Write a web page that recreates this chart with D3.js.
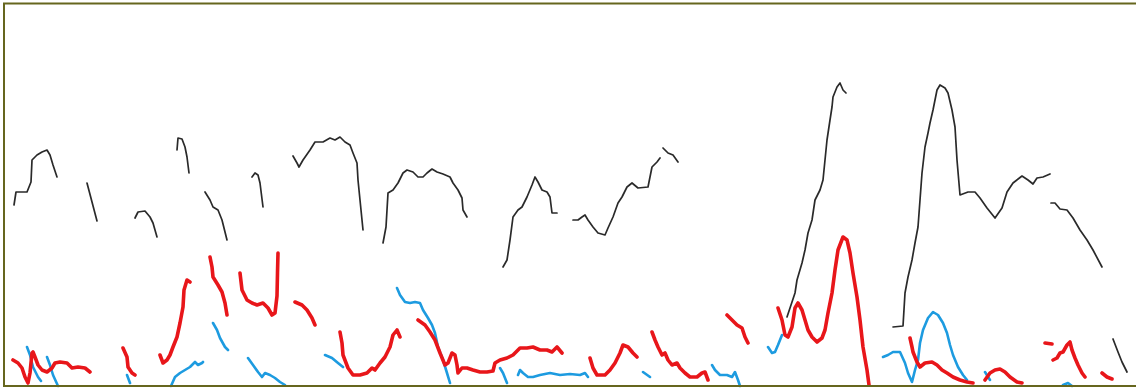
<!DOCTYPE html>
<html>
<head>
<meta charset="utf-8">
<script src="https://cdn.jsdelivr.net/npm/d3@7"></script>
<style>
  html, body { margin: 0; padding: 0; background: #fff; }
  svg { display: block; }
</style>
</head>
<body>
<svg id="chart" width="1136" height="388"></svg>
<script>
// Three recorded traces; each entry is [time index, level], null breaks the trace.
const blackSeries = [
  [10,181],[12,194],[23,194],[27,204],[28,226],[33,231],[38,234],[43,236],[46,231],[49,221],[53,209], null,
  [83,203],[88,184],[93,165], null,
  [131,168],[134,174],[141,175],[146,169],[149,163],[153,149], null,
  [173,236],[174,248],[178,247],[181,239],[183,229],[185,213], null,
  [201,194],[206,186],[209,179],[214,176],[218,166],[223,146], null,
  [248,209],[251,213],[254,211],[256,203],[259,179], null,
  [289,230],[293,223],[295,219],[299,226],[306,236],[311,244],[319,244],[326,248],[331,246],[336,249],[341,244],[346,241],[349,233],[353,223],[354,206],[356,186],[359,156], null,
  [379,143],[382,159],[384,193],[389,196],[394,203],[399,213],[403,216],[409,214],[414,209],[419,209],[423,213],[428,217],[433,214],[439,212],[446,209],[449,203],[454,196],[458,188],[459,176],[463,169], null,
  [499,119],[503,126],[506,146],[509,169],[514,176],[518,179],[523,189],[528,201],[531,209],[534,204],[538,196],[543,194],[546,189],[548,173],[553,173], null,
  [569,166],[574,166],[578,169],[581,171],[584,166],[589,159],[594,153],[601,151],[604,158],[609,169],[614,183],[618,189],[623,199],[628,203],[634,198],[644,199],[648,219],[653,224],[656,228], null,
  [659,238],[664,233],[669,231],[674,224], null,
  [783,69],[786,78],[791,93],[793,106],[798,123],[801,136],[804,153],[808,166],[811,186],[816,196],[819,206],[821,226],[823,246],[826,266],[828,279],[829,289],[833,299],[836,303],[839,296],[842,293], null,
  [889,59],[899,60],[901,93],[904,109],[908,126],[911,143],[914,159],[916,186],[918,213],[921,239],[924,253],[926,263],[929,276],[933,296],[936,301],[941,298],[944,293],[948,276],[951,259],[953,226],[956,191],[964,194],[971,194],[976,188],[983,178],[991,168],[998,178],[1003,194],[1009,203],[1018,210],[1024,206],[1029,202],[1033,208],[1039,209],[1046,212], null,
  [1047,183],[1051,183],[1056,177],[1063,176],[1069,168],[1076,156],[1083,146],[1089,136],[1098,119], null,
  [1109,47],[1114,34],[1118,24],[1123,14]
];

const redSeries = [
  [9,26],[14,23],[18,18],[21,9],[24,3],[26,13],[28,33],[29,34],[31,29],[34,21],[38,16],[43,14],[48,18],[51,23],[56,24],[63,23],[68,18],[74,19],[81,18],[86,14], null,
  [119,38],[123,29],[124,19],[128,13],[131,11], null,
  [156,31],[159,23],[163,26],[166,31],[169,39],[173,49],[176,63],[179,79],[180,96],[183,106],[186,104], null,
  [206,129],[208,119],[209,109],[214,101],[218,94],[221,83],[223,71], null,
  [236,113],[238,96],[243,86],[248,83],[253,81],[259,83],[264,78],[268,71],[271,73],[273,90],[273.5,113],[274,133], null,
  [291,84],[298,81],[303,76],[308,68],[311,61], null,
  [336,54],[338,43],[339,31],[344,18],[349,11],[356,11],[363,13],[368,18],[371,16],[376,23],[381,29],[386,39],[389,51],[393,56],[396,49], null,
  [414,66],[421,61],[426,54],[431,46],[436,33],[441,21],[444,23],[448,33],[451,31],[453,21],[454,13],[458,18],[463,18],[469,16],[476,14],[483,14],[489,15],[491,23],[496,26],[503,28],[509,31],[516,38],[523,38],[529,39],[536,36],[543,36],[548,34],[553,39],[558,33], null,
  [586,28],[589,18],[593,11],[601,11],[606,16],[611,23],[616,33],[619,41],[624,39],[629,33],[633,29], null,
  [648,54],[651,46],[654,39],[658,31],[661,33],[664,26],[668,21],[673,23],[676,18],[681,13],[686,9],[693,9],[698,13],[701,14],[704,6], null,
  [723,71],[728,66],[733,61],[738,58],[741,49],[744,43], null,
  [774,78],[778,66],[781,51],[784,49],[788,59],[791,78],[794,83],[798,76],[801,66],[804,56],[808,49],[813,44],[818,48],[821,56],[824,73],[828,93],[831,116],[834,136],[839,149],[843,146],[846,133],[849,113],[853,89],[856,66],[859,39],[863,16],[865,1], null,
  [906,48],[908,39],[909,34],[913,24],[916,19],[921,23],[928,24],[933,21],[938,16],[943,13],[949,9],[956,6],[963,4],[969,3], null,
  [981,6],[986,13],[991,16],[996,17],[1001,14],[1006,9],[1013,4],[1018,3], null,
  [1041,43],[1048,42], null,
  [1049,26],[1053,28],[1056,33],[1059,34],[1063,41],[1066,44],[1068,36],[1071,28],[1074,21],[1078,13],[1081,9], null,
  [1098,13],[1103,9],[1108,7]
];

const blueSeries = [
  [23,39],[26,31],[29,19],[34,9],[37,5], null,
  [43,29],[46,21],[49,11],[54,0], null,
  [123,11],[126,3], null,
  [167,0],[171,9],[176,13],[181,16],[186,19],[191,24],[194,21],[198,23],[199,24], null,
  [209,63],[213,56],[216,48],[221,39],[224,36], null,
  [244,28],[249,21],[254,14],[258,9],[261,13],[266,11],[271,8],[276,4],[281,1], null,
  [321,31],[328,28],[334,23],[339,19], null,
  [393,98],[396,91],[401,84],[406,83],[411,84],[416,83],[419,76],[424,68],[428,61],[431,53],[434,39],[439,26],[443,13],[446,3], null,
  [496,18],[499,13],[503,3], null,
  [514,11],[516,16],[519,13],[524,9],[529,9],[536,11],[546,13],[556,11],[566,12],[576,11],[581,13],[584,9], null,
  [639,14],[646,9], null,
  [708,21],[711,16],[716,11],[723,11],[728,9],[731,14],[734,6],[736,0], null,
  [764,39],[768,33],[771,34],[774,41],[778,51], null,
  [879,29],[884,31],[889,34],[896,34],[901,23],[904,13],[908,4],[911,16],[914,26],[916,43],[919,56],[924,68],[929,74],[934,71],[939,63],[943,53],[946,41],[949,31],[954,19],[959,11],[963,6], null,
  [981,14],[986,6], null,
  [1059,1],[1064,3],[1068,0]
];

const W = 1136, H = 388;
const svg = d3.select("#chart");

const x = d3.scaleLinear().domain([0, 1130]).range([4, 1134]);
const y = d3.scaleLinear().domain([0, 382]).range([386, 4]);

const line = d3.line()
  .defined(d => d !== null)
  .x(d => x(d[0]))
  .y(d => y(d[1]))
  .curve(d3.curveLinear);

svg.append("rect")
  .attr("x", 0).attr("y", 0).attr("width", W).attr("height", H)
  .attr("fill", "#ffffff");

const traces = [
  { data: blueSeries,  color: "#1d9be0", width: 2.6 },
  { data: redSeries,   color: "#e8161a", width: 3.6 },
  { data: blackSeries, color: "#2a2a2a", width: 1.7 }
];

svg.selectAll("path.trace")
  .data(traces)
  .join("path")
  .attr("class", "trace")
  .attr("d", d => line(d.data))
  .attr("fill", "none")
  .attr("stroke", d => d.color)
  .attr("stroke-width", d => d.width)
  .attr("stroke-linejoin", "round")
  .attr("stroke-linecap", "round");

// Frame around the plot
svg.append("rect")
  .attr("x", 4).attr("y", 3.5)
  .attr("width", 1140).attr("height", 382.5)
  .attr("fill", "none")
  .attr("stroke", "#66661e")
  .attr("stroke-width", 2);
</script>
</body>
</html>
